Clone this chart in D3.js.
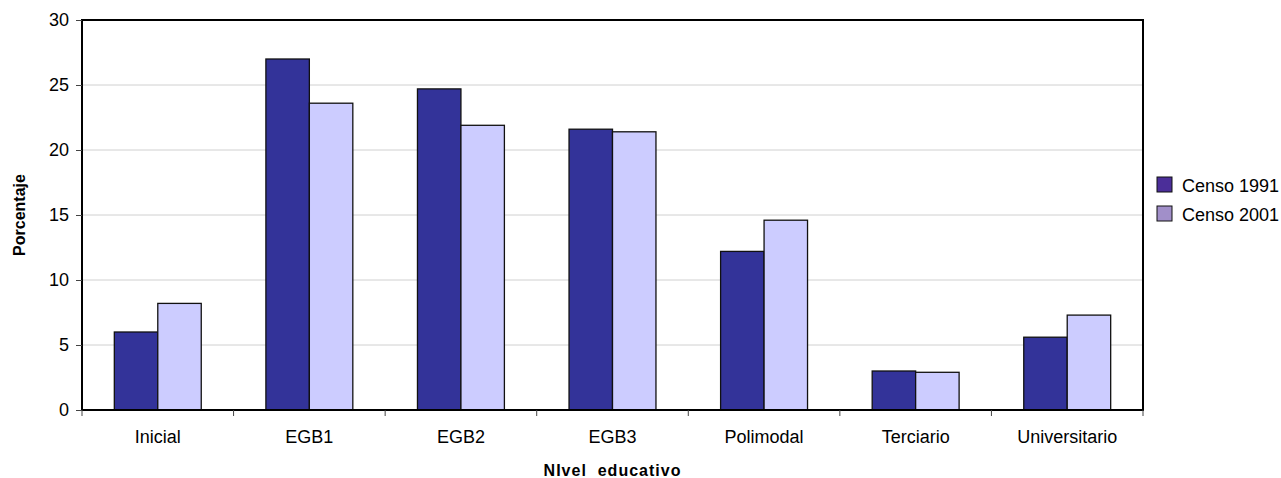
<!DOCTYPE html>
<html>
<head>
<meta charset="utf-8">
<script src="https://cdn.jsdelivr.net/npm/d3@7"></script>
<style>
body{margin:0;background:#fff;}
svg{display:block;}
text{font-family:"Liberation Sans",Arial,sans-serif;fill:#000;}
</style>
</head>
<body>
<svg id="chart" width="1281" height="478"></svg>
<script>
const categories = ["Inicial","EGB1","EGB2","EGB3","Polimodal","Terciario","Universitario"];
const censo1991 = [6.0, 27.0, 24.7, 21.6, 12.2, 3.0, 5.6];
const censo2001 = [8.2, 23.6, 21.9, 21.4, 14.6, 2.9, 7.3];
const seriesNames = ["Censo 1991","Censo 2001"];
const yTicks = [0,5,10,15,20,25,30];

const barColors = ["#333399","#ccccff"];
const legendColors = ["#4b2e99","#a18fc9"];

const svg = d3.select("#chart");
const m = {left:82, top:20, right:1143, bottom:410};

const x = d3.scaleBand().domain(categories).range([m.left, m.right]).paddingInner(0).paddingOuter(0);
const x1 = d3.scaleBand().domain(seriesNames).range([0, x.bandwidth()]).paddingInner(0).paddingOuter(0.7436);
const y = d3.scaleLinear().domain([0,30]).range([m.bottom, m.top]);

// gridlines
svg.append("g").selectAll("line").data(yTicks.filter(d=>d>0 && d<30)).join("line")
  .attr("x1", m.left).attr("x2", m.right)
  .attr("y1", d=>y(d)).attr("y2", d=>y(d))
  .attr("stroke","#d0d0d0").attr("stroke-width",1);

// bars
const data = categories.map((c,i)=>({c, vals:[censo1991[i], censo2001[i]]}));
const groups = svg.append("g").selectAll("g").data(data).join("g")
  .attr("transform", d=>`translate(${x(d.c)},0)`);
groups.selectAll("rect").data(d=>d.vals.map((v,j)=>({v,j}))).join("rect")
  .attr("x", d=>x1(seriesNames[d.j]))
  .attr("width", x1.bandwidth())
  .attr("y", d=>y(d.v))
  .attr("height", d=>y(0)-y(d.v))
  .attr("fill", d=>barColors[d.j])
  .attr("stroke","#111").attr("stroke-width",1.3);

// frame
svg.append("rect").attr("x",m.left).attr("y",m.top)
  .attr("width",m.right-m.left).attr("height",m.bottom-m.top)
  .attr("fill","none").attr("stroke","#000").attr("stroke-width",2);

// y axis
const yAxis = d3.axisLeft(y).tickValues(yTicks).tickSize(6).tickPadding(7);
const gy = svg.append("g").attr("transform",`translate(${m.left},0)`).call(yAxis);
gy.select(".domain").remove();
gy.selectAll(".tick line").attr("stroke","#444").attr("stroke-width",1);
gy.selectAll(".tick text").style("font-size","18px").style("font-family","Liberation Sans, Arial, sans-serif").attr("fill","#000");

// x axis ticks at category boundaries
const bounds = categories.map(c=>x(c)).concat([m.right]);
svg.append("g").selectAll("line").data(bounds).join("line")
  .attr("x1",d=>d).attr("x2",d=>d).attr("y1",m.bottom).attr("y2",m.bottom+6)
  .attr("stroke","#444").attr("stroke-width",1);
svg.append("g").selectAll("text").data(categories).join("text")
  .attr("x", d=>x(d)+x.bandwidth()/2).attr("y", 443)
  .attr("text-anchor","middle").style("font-size","18px").text(d=>d);

// axis titles
svg.append("text").attr("x",(m.left+m.right)/2).attr("y",476)
  .attr("text-anchor","middle").style("font-size","16px").style("font-weight","bold")
  .style("letter-spacing","1px").style("white-space","pre")
  .text("NIvel  educativo");
svg.append("text").attr("transform",`translate(25,${(m.top+m.bottom)/2}) rotate(-90)`)
  .attr("text-anchor","middle").style("font-size","16px").style("font-weight","bold")
  .text("Porcentaje");

// legend
const lg = svg.append("g").selectAll("g").data(seriesNames).join("g")
  .attr("transform",(d,i)=>`translate(1157,${177+i*29})`);
lg.append("rect").attr("width",15).attr("height",15)
  .attr("fill",(d,i)=>legendColors[i]).attr("stroke","#111").attr("stroke-width",1);
lg.append("text").attr("x",25).attr("y",15).style("font-size","18px").text(d=>d);
</script>
</body>
</html>
